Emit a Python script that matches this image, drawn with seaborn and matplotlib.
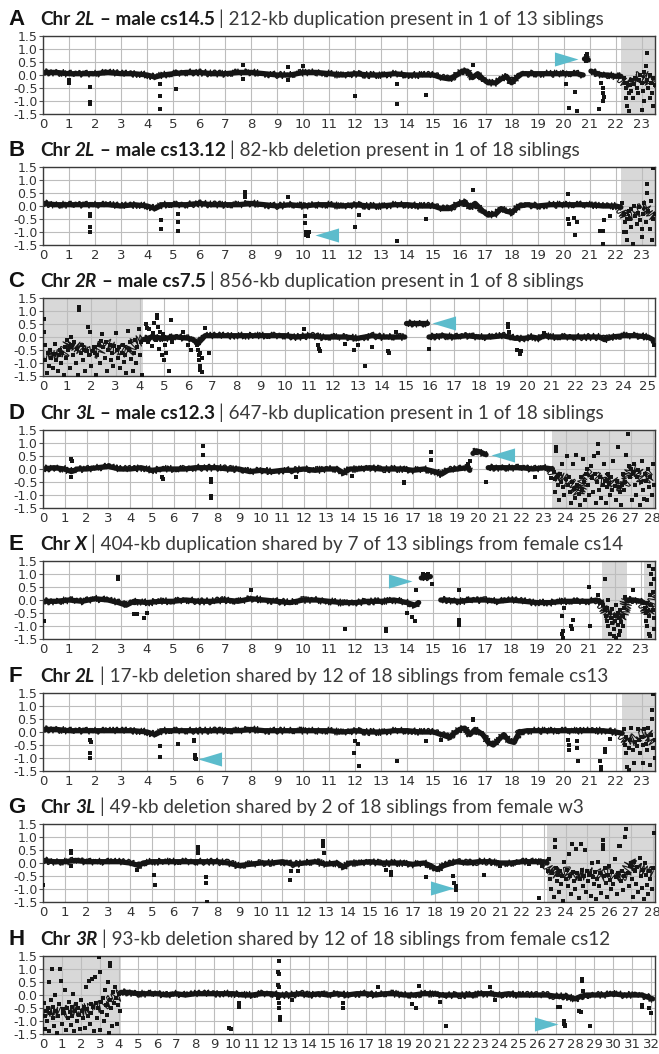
import numpy as np
import pandas as pd
import matplotlib
matplotlib.use("Agg")
import matplotlib.pyplot as plt
import seaborn as sns

# ---- panel A: Chr 2L, male cs14.5 ----
A_len = 23.51
A_shade = [(22.2, 23.51)]
A_trace = [(0, 0.1), (0.5, 0.1), (1, 0.05), (1.5, 0.05), (2, 0.05), (2.5, 0.1), (3, 0.05), (3.5, 0.05),
           (4, 0.0), (4.3, -0.08), (4.6, 0.0), (5, 0.05), (5.5, 0.1), (6, 0.1), (6.5, 0.05), (7, 0.05),
           (7.5, 0.1), (8, 0.1), (8.5, 0.05), (9, 0.0), (9.5, 0.0), (10, 0.1), (10.5, 0.1), (11, 0.05),
           (11.5, 0.0), (12, 0.05), (12.5, 0.0), (13, 0.0), (13.5, 0.05), (14, 0.0), (14.5, 0.0), (15, 0.0),
           (15.3, -0.1), (15.6, -0.15), (15.9, 0.0), (16.1, 0.15), (16.3, 0.15), (16.5, -0.1), (16.7, 0.05),
           (16.9, -0.15), (17.1, -0.3), (17.4, -0.3), (17.6, -0.15), (17.8, -0.05), (18.0, -0.3), (18.2, -0.1),
           (18.4, 0.05), (19, 0.05), (19.5, 0.05), (20, 0.05), (20.5, 0.05), (20.75, 0.0), None,
           (20.8, 0.62), (20.95, 0.58), None, (21.05, 0.15), (21.3, 0.05), (21.5, 0.0), (21.7, 0.0),
           (22.0, -0.05), (22.2, -0.05)]
A_noisy = [(22.2, -0.05), (22.4, -0.3), (22.6, -0.35), (22.8, -0.15), (23.0, 0.0), (23.2, -0.1),
           (23.35, -0.3), (23.51, -0.2)]
A_points = [(1.0, -0.3), (1.0, -0.2), (1.8, -0.45), (1.8, -1.05), (1.8, -1.12), (4.5, -0.35), (4.5, -0.8),
            (4.5, -1.3), (5.1, -0.55), (7.7, 0.4), (7.7, -0.15), (9.4, 0.3), (9.4, -0.2), (10.0, 0.35),
            (12.0, -0.8), (13.6, -1.1), (13.6, -0.35), (14.7, -0.75), (16.5, 0.4), (16.9, -0.2),
            (20.1, -0.35), (20.2, -1.25), (20.45, -0.65), (20.5, -1.4), (20.85, 0.75), (20.88, 0.8),
            (20.9, 0.7), (20.85, 0.52), (21.45, -0.3), (21.5, -0.5), (21.5, -0.7), (21.55, -0.85),
            (21.5, -1.0), (21.35, -1.3), (22.3, -0.1), (22.35, -0.3), (22.4, -0.5), (22.4, -0.9),
            (22.45, -1.2), (22.5, -1.4), (22.5, -0.7), (22.55, -0.4), (22.6, -0.2), (22.6, -0.6),
            (22.65, -0.9), (22.7, -0.35), (22.75, -0.1), (22.8, -0.5), (22.85, -0.7), (22.9, -0.2),
            (22.95, 0.0), (23.0, -0.3), (23.0, -1.35), (23.05, -0.6), (23.1, 0.1), (23.1, -1.0),
            (23.15, 0.35), (23.2, -0.2), (23.2, 0.85), (23.25, -0.5), (23.3, -0.9), (23.3, 0.0),
            (23.35, -0.3), (23.4, -0.7), (23.45, -1.2), (23.45, -0.1), (23.5, -0.4)]
A_arrow = (20.55, 0.6, "right")

# ---- panel B: Chr 2L, male cs13.12 ----
B_len = 23.51
B_shade = [(22.2, 23.51)]
B_trace = [(0, 0.1), (0.5, 0.05), (1, 0.05), (1.5, 0.05), (2, 0.05), (2.5, 0.05), (3, 0.0), (3.5, 0.05),
           (4, 0.0), (4.3, -0.1), (4.6, 0.05), (5, 0.05), (5.5, 0.05), (6, 0.1), (6.5, 0.05), (7, 0.05),
           (7.5, 0.05), (8, 0.1), (8.5, 0.05), (9, 0.0), (9.5, 0.05), (10, 0.0), (10.5, 0.05), (11, 0.05),
           (11.5, 0.0), (12, 0.05), (12.5, 0.0), (13, 0.0), (13.5, 0.05), (14, 0.05), (14.5, 0.0), (15, 0.0),
           (15.3, -0.1), (15.6, -0.1), (16, 0.1), (16.2, 0.15), (16.4, -0.05), (16.6, 0.1), (16.9, -0.2),
           (17.1, -0.35), (17.4, -0.3), (17.6, -0.1), (17.8, -0.2), (18, -0.25), (18.3, 0.0), (18.6, 0.05),
           (19, 0.0), (19.5, 0.05), (20, 0.05), (20.5, 0.05), (21, 0.05), (21.5, 0.0), (22, 0.0), (22.2, -0.05)]
B_noisy = [(22.2, -0.05), (22.4, -0.4), (22.6, -0.3), (22.8, -0.2), (23.0, -0.1), (23.2, 0.0),
           (23.4, -0.3), (23.51, -0.4)]
B_points = [(1.8, -0.4), (1.8, -0.3), (1.8, -0.8), (1.8, -1.0), (4.55, -0.55), (4.55, -0.9), (5.2, -0.3),
            (5.2, -0.6), (5.2, -0.95), (7.75, 0.55), (7.75, 0.45), (7.75, 0.35), (9.4, 0.35), (10.05, -0.4),
            (10.05, -0.65), (10.1, -1.0), (10.12, -1.05), (10.15, -1.1), (10.18, -1.15), (10.1, -1.1),
            (10.2, -1.0), (12.0, -0.8), (12.15, -0.35), (13.6, -1.35), (14.7, -0.5), (16.5, 0.6),
            (20.15, 0.45), (20.15, -0.5), (20.2, -0.7), (20.4, -0.45), (20.45, -1.1), (20.5, -0.6),
            (21.4, -0.95), (21.5, -0.95), (21.55, -0.55), (21.5, -1.45), (21.8, -0.4),
            (22.25, 0.1), (22.3, -0.3), (22.35, -0.6), (22.4, -1.0), (22.45, -1.3), (22.5, -0.2),
            (22.55, -0.5), (22.6, -0.8), (22.65, -1.45), (22.7, 0.0), (22.75, -0.4), (22.8, -0.7),
            (22.85, -0.25), (22.9, -0.05), (22.95, -0.55), (23.0, -1.2), (23.05, -0.3), (23.1, 0.1),
            (23.15, -0.6), (23.2, 0.5), (23.2, 0.85), (23.25, -0.2), (23.3, -0.9), (23.35, 0.2),
            (23.4, -1.3), (23.45, 1.45), (23.45, -0.5), (23.5, -0.3), (22.3, -1.0), (22.6, -0.1),
            (23.0, -0.9), (22.45, -0.5)]
B_arrow = (10.45, -1.1, "left")

# ---- panel C: Chr 2R, male cs7.5 ----
C_len = 25.29
C_shade = [(0, 4.15)]
C_trace = [(4.15, -0.1), (4.5, 0.0), (5.0, -0.05), (5.5, 0.0), (6.0, -0.05), (6.2, -0.1), (6.4, -0.25),
           (6.55, -0.1), (6.7, 0.05), (7, 0.05), (8, 0.05), (8.5, 0.05), (9, 0.05), (9.5, 0.05), (10, 0.05),
           (10.5, 0.0), (11, 0.05), (11.5, 0.0), (12, 0.0), (12.5, 0.0), (13, -0.05), (13.3, 0.0),
           (13.6, 0.05), (14, 0.0), (14.5, 0.0), (14.95, 0.0), None, (15.0, 0.55), (15.85, 0.55), None,
           (15.95, 0.0), (16.5, 0.05), (17, 0.0), (17.5, 0.05), (18, 0.0), (18.5, 0.0), (19, 0.05),
           (19.5, -0.05), (19.9, -0.05), (20.2, 0.0), (20.5, -0.05), (20.7, 0.05), (21, 0.0), (21.5, 0.0),
           (22, 0.0), (22.5, 0.0), (23, 0.0), (23.2, -0.1), (23.5, 0.0), (24, 0.05), (24.5, 0.05),
           (25, 0.0), (25.29, -0.15)]
C_noisy = [(0.0, -0.6), (0.4, -0.65), (0.8, -0.7), (1.1, -0.2), (1.3, -0.3), (1.6, -0.5), (2.0, -0.5),
           (2.3, -0.6), (2.5, -0.2), (2.8, -0.35), (3.1, -0.45), (3.5, -0.6), (3.8, -0.2), (4.15, -0.1)]
C_points = [(0.05, 0.7), (0.05, 0.2), (0.1, -0.3), (0.1, -0.9), (0.15, -1.4), (0.2, -0.6), (0.25, -1.1),
            (0.3, -0.5), (0.35, -0.8), (0.4, -1.2), (0.45, -0.65), (0.5, -0.25), (0.55, -0.9), (0.6, -1.3),
            (0.65, -0.7), (0.7, -0.5), (0.75, -1.0), (0.8, -0.6), (0.85, -1.45), (0.9, -0.4), (0.95, -0.8),
            (1.0, -0.1), (1.05, -0.5), (1.1, -1.2), (1.15, 0.0), (1.2, -0.3), (1.25, -0.7), (1.3, -0.2),
            (1.35, -1.0), (1.4, -0.45), (1.45, -1.45), (1.5, 1.15), (1.5, 1.05), (1.55, -0.6), (1.6, -0.3),
            (1.65, -0.9), (1.7, -0.5), (1.75, -1.3), (1.8, -0.55), (1.85, 0.4), (1.9, -0.7), (1.95, 0.2),
            (2.0, -1.1), (2.05, -0.55), (2.1, -0.4), (2.15, -0.6), (2.2, -1.45), (2.25, -0.7), (2.3, -0.3),
            (2.35, -1.0), (2.4, -0.15), (2.45, 0.1), (2.5, -0.4), (2.55, -0.8), (2.6, -0.2), (2.65, -1.3),
            (2.7, -0.5), (2.75, -0.3), (2.8, -0.9), (2.85, -0.6), (2.9, -1.1), (2.95, -0.35), (3.0, 0.15),
            (3.05, -0.5), (3.1, -0.8), (3.15, -0.4), (3.2, -1.2), (3.25, -0.6), (3.3, -0.3), (3.35, -0.95),
            (3.4, -0.7), (3.45, -1.4), (3.5, 0.25), (3.55, -0.5), (3.6, -0.2), (3.65, -0.85), (3.7, -1.3),
            (3.75, -0.6), (3.8, -0.1), (3.85, -1.0), (3.9, -0.4), (3.95, 0.3), (4.0, -0.7), (4.05, -0.2),
            (4.1, -1.45), (4.25, 0.5), (4.3, 0.35), (4.35, -0.2), (4.4, 0.3), (4.5, -0.35), (4.55, 0.15),
            (4.6, 0.55), (4.65, -0.1), (4.7, 0.85), (4.7, 0.75), (4.75, 0.4), (4.8, -0.45), (4.85, 0.2),
            (4.9, -0.7), (4.95, 0.1), (5.0, -0.9), (5.05, -0.3), (5.1, -0.6), (5.2, -1.3), (5.3, 0.65),
            (5.35, -0.2), (5.8, 0.2), (6.0, -0.3), (6.1, -0.5), (6.35, -0.3), (6.4, -0.5), (6.45, -0.7),
            (6.45, -0.9), (6.5, -1.1), (6.5, -1.25), (6.55, -0.8), (6.5, -0.6), (6.55, -1.35), (6.7, 0.35),
            (6.85, -0.6), (10.8, 0.3), (11.4, -0.45), (11.35, -0.3), (11.45, -0.55), (12.5, -0.25),
            (12.85, -0.5), (13.0, -0.3), (13.3, -1.1), (13.6, -0.4), (14.25, -0.55), (14.3, -0.6),
            (14.6, 0.2), (15.95, -0.45), (19.2, 0.5), (19.2, 0.4), (19.25, 0.2), (19.6, -0.5), (19.7, -0.65),
            (19.75, -0.55), (20.7, 0.15), (25.25, -0.3)]
C_arrow = (16.07, 0.55, "left")

# ---- panel D: Chr 3L, male cs12.3 ----
D_len = 28.11
D_shade = [(23.4, 28.11)]
D_trace = [(0, 0.0), (0.5, 0.05), (1, 0.0), (1.3, -0.1), (1.6, 0.0), (2, 0.0), (2.5, 0.05), (3, 0.1),
           (3.5, 0.0), (4, 0.0), (4.5, 0.05), (5, -0.05), (5.5, 0.0), (6, 0.0), (6.5, 0.0), (7, 0.05),
           (7.5, 0.05), (8, 0.05), (8.5, 0.0), (9, 0.0), (9.5, -0.1), (10, -0.05), (10.5, -0.1), (11, -0.05),
           (11.5, -0.05), (12, 0.0), (12.5, -0.05), (13, 0.0), (13.5, 0.0), (13.8, -0.15), (14.1, 0.0),
           (14.5, 0.0), (15, 0.05), (15.5, 0.0), (16, 0.0), (16.5, 0.0), (17, -0.05), (17.5, 0.0),
           (18, -0.1), (18.3, -0.2), (18.6, -0.05), (19, 0.0), (19.5, 0.05), (19.6, -0.05), None,
           (19.75, 0.6), (19.9, 0.7), (20.1, 0.65), (20.35, 0.55), None, (20.45, 0.05), (21, 0.05),
           (21.5, 0.05), (22, 0.05), (22.5, 0.0), (23, 0.05), (23.4, 0.0)]
D_noisy = [(23.4, 0.0), (23.5, -0.2), (24.0, -0.4), (24.3, -0.6), (24.6, -0.9), (24.8, -0.5),
           (25.0, -0.2), (25.2, -0.1), (25.5, -0.4), (25.8, -0.5), (26.0, -0.3), (26.3, -0.6),
           (26.6, -0.7), (26.8, -0.5), (27.0, 0.0), (27.3, -0.1), (27.6, -0.5), (28.0, -0.1)]
D_points = [(1.3, 0.4), (1.35, 0.3), (1.3, -0.3), (5.5, -0.4), (5.45, -0.3), (7.35, 0.9), (7.35, 0.55),
            (7.7, -0.4), (7.7, -1.05), (7.7, -1.1), (7.7, -0.5), (11.6, -0.3), (14.2, -0.25), (16.6, -0.5),
            (16.6, -0.55), (17.8, 0.65), (17.8, 0.35), (19.5, 0.2), (19.6, 0.3), (20.35, -0.5), (22.6, -0.3),
            (23.35, -0.35), (23.45, -0.1), (23.5, -0.4), (23.5, -0.9), (23.55, 0.85), (23.55, 0.7),
            (23.6, -0.3), (23.65, -0.6), (23.7, -1.2), (23.75, -0.2), (23.8, -0.5), (23.85, 0.2),
            (23.9, -0.7), (23.95, -1.0), (24.0, -0.4), (24.05, 0.5), (24.1, -0.6), (24.15, -0.3),
            (24.2, -0.9), (24.25, -1.3), (24.3, -0.5), (24.35, 0.2), (24.4, -0.75), (24.45, -1.1),
            (24.5, 0.55), (24.55, -0.6), (24.6, -0.95), (24.65, -1.4), (24.7, -0.3), (24.75, -0.8),
            (24.8, 0.4), (24.85, -0.5), (24.9, -1.2), (24.95, -0.2), (25.0, 0.0), (25.05, -0.6),
            (25.1, -1.0), (25.15, 0.1), (25.2, -0.35), (25.25, -0.9), (25.3, 0.5), (25.35, -0.2),
            (25.4, -1.3), (25.45, -0.5), (25.5, 0.95), (25.5, 0.6), (25.55, -0.8), (25.6, -0.3),
            (25.65, -1.1), (25.7, -0.6), (25.75, 0.2), (25.8, -0.45), (25.85, -1.3), (25.9, -0.7),
            (25.95, -0.2), (26.0, -0.55), (26.05, -1.0), (26.1, -0.3), (26.15, -0.8), (26.2, 0.3),
            (26.25, -0.65), (26.3, -1.2), (26.35, -0.45), (26.4, 0.85), (26.45, -0.7), (26.5, -0.9),
            (26.55, -1.4), (26.6, -0.6), (26.65, -0.2), (26.7, -0.8), (26.75, -0.5), (26.8, 0.55),
            (26.85, 1.35), (26.9, 0.1), (26.95, -0.3), (27.0, 0.0), (27.05, -1.2), (27.1, -0.1),
            (27.15, 0.2), (27.2, -0.6), (27.25, -1.0), (27.3, -0.3), (27.35, -0.05), (27.4, -1.4),
            (27.45, -0.5), (27.5, 0.3), (27.55, -0.8), (27.6, -1.15), (27.65, -0.2), (27.7, -0.45),
            (27.75, -1.2), (27.8, 0.0), (27.85, -0.7), (27.9, -0.3), (27.95, -1.0), (28.0, 0.2),
            (28.05, -0.6)]
D_arrow = (20.6, 0.52, "left")

# ---- panel E: Chr X, female cs14 ----
E_len = 23.54
E_shade = [(21.5, 22.45), (23.1, 23.54)]
E_trace = [(0, -0.05), (0.5, -0.05), (1, 0.0), (1.5, -0.05), (2, 0.05), (2.5, 0.0), (2.9, -0.1),
           (3.2, -0.2), (3.5, -0.05), (4, -0.1), (4.5, -0.05), (5, -0.05), (5.5, 0.0), (6, -0.05),
           (6.5, -0.05), (7, 0.0), (7.5, -0.05), (8, 0.05), (8.5, 0.0), (9, -0.05), (9.5, -0.1), (10, 0.0),
           (10.5, 0.0), (11, -0.05), (11.5, -0.1), (12, -0.1), (12.5, -0.05), (13, -0.05), (13.5, 0.0),
           (14, -0.1), (14.3, -0.2), (14.45, -0.1), None, (14.55, 0.85), (14.9, 0.9), None, (15.3, 0.0),
           (15.5, 0.0), (16, -0.05), (16.5, 0.0), (17, 0.0), (17.5, -0.05), (18, 0.0), (18.5, -0.05),
           (19, -0.1), (19.5, -0.1), (20, -0.05), (20.5, -0.05), (21, -0.05), (21.3, 0.0), (21.5, -0.1),
           None, (22.45, 0.0), (22.7, 0.0), (23.0, -0.05), (23.1, -0.1)]
E_noisy = [(21.5, -0.1), (21.7, -0.5), (21.9, -0.7), (22.1, -0.75), (22.3, -0.6), (22.45, 0.0), None,
           (23.1, -0.1), (23.25, -0.5), (23.4, -0.3), (23.54, 0.2)]
E_points = [(0.05, -0.8), (2.9, 0.9), (2.9, 0.8), (3.5, -0.55), (3.6, -0.55), (3.9, -0.7), (4.0, -0.5),
            (8.0, 0.4), (11.6, -1.1), (13.2, -1.1), (13.2, -1.2), (14.0, -0.5), (14.2, -0.65), (14.3, -0.8),
            (14.35, 0.4), (14.6, 1.0), (14.7, 0.95), (14.8, 1.0), (14.95, 0.6), (16.0, -0.75),
            (16.0, -0.95), (16.0, -0.9), (16.0, 0.4), (19.95, -0.6), (20.05, -0.3), (19.95, -1.3),
            (20.0, -1.45), (20.0, -1.2), (20.3, -1.0), (20.35, -1.1), (20.4, -0.75), (21.0, 0.5),
            (21.05, -1.0), (21.35, 0.2), (21.55, -0.2), (21.6, -0.4), (21.6, 0.8), (21.65, -0.6),
            (21.7, -0.3), (21.7, -0.8), (21.75, -1.0), (21.8, -0.5), (21.8, -1.3), (21.85, -0.7),
            (21.9, -0.9), (21.9, -0.35), (21.95, -1.1), (22.0, -0.6), (22.0, -0.8), (22.05, -1.45),
            (22.1, -0.5), (22.1, -0.95), (22.15, -0.7), (22.2, -1.2), (22.2, -0.4), (22.25, -0.85),
            (22.3, -0.6), (22.3, -1.0), (22.35, -0.3), (21.75, 0.0), (22.05, -0.2), (21.95, -1.4),
            (22.4, 0.1), (22.15, -1.35), (22.7, 0.4), (23.15, -0.3), (23.2, -0.5), (23.2, -0.8),
            (23.25, -1.0), (23.3, -1.3), (23.3, -0.6), (23.35, 0.2), (23.35, -1.4), (23.4, 0.6),
            (23.4, 1.0), (23.45, 1.2), (23.45, -0.4), (23.5, 0.8), (23.5, -1.1), (23.4, -0.2),
            (23.25, -0.1), (23.3, 1.3), (23.45, 0.3), (23.5, -0.7)]
E_arrow = (14.2, 0.73, "right")

# ---- panel F: Chr 2L, female cs13 ----
F_len = 23.51
F_shade = [(22.25, 23.51)]
F_trace = [(0, 0.1), (0.5, 0.1), (1, 0.05), (1.5, 0.05), (2, 0.05), (2.5, 0.05), (3, 0.05), (3.5, 0.05),
           (4, 0.0), (4.3, -0.1), (4.6, 0.05), (5, 0.05), (5.5, 0.05), (6, 0.05), (6.5, 0.05), (7, 0.05),
           (7.5, 0.05), (8, 0.1), (8.5, 0.05), (9, 0.05), (9.5, 0.05), (10, 0.05), (10.5, 0.05), (11, 0.05),
           (11.5, 0.0), (12, 0.05), (12.5, 0.0), (13, 0.0), (13.5, 0.05), (14, 0.05), (14.5, 0.0), (15, 0.0),
           (15.3, -0.1), (15.6, -0.2), (16, 0.1), (16.2, 0.15), (16.4, -0.1), (16.6, 0.1), (16.9, -0.1),
           (17.1, -0.4), (17.3, -0.5), (17.5, -0.3), (17.7, -0.1), (17.9, -0.35), (18.1, -0.4), (18.3, 0.0),
           (18.6, 0.05), (19, 0.05), (19.5, 0.05), (20, 0.05), (20.5, 0.05), (21, 0.05), (21.5, 0.05),
           (22, 0.0), (22.25, -0.05)]
F_noisy = [(22.25, -0.05), (22.45, -0.35), (22.65, -0.3), (22.85, -0.15), (23.0, -0.1), (23.2, -0.05),
           (23.4, -0.3), (23.51, -0.4)]
F_points = [(1.8, -0.3), (1.85, -0.4), (1.8, -0.8), (1.8, -1.0), (4.5, -0.55), (4.5, -0.95), (5.2, -0.45),
            (5.8, -0.35), (5.8, -0.3), (5.85, -0.9), (5.85, -0.95), (5.85, -1.0), (5.88, -1.05),
            (11.95, -0.8), (12.0, -0.35), (12.1, -0.45), (12.15, -1.3), (13.6, -1.1), (14.7, -0.35),
            (15.3, -0.3), (16.5, 0.45), (16.5, 0.5), (20.15, -0.3), (20.2, -0.5), (20.2, -0.7), (20.5, -0.35),
            (20.5, -0.6), (20.55, -1.1), (21.4, -1.1), (21.45, -1.35), (21.45, -1.45), (21.6, -0.65),
            (21.6, -0.75), (21.8, -0.25), (22.3, 0.1), (22.35, -0.5), (22.4, -0.2), (22.45, -1.35),
            (22.5, -1.45), (22.5, -0.6), (22.55, -0.3), (22.6, 0.15), (22.65, -0.7), (22.7, -1.2),
            (22.75, -0.4), (22.8, -0.55), (22.85, 0.1), (22.9, -0.3), (22.95, -0.8), (23.0, -0.2),
            (23.05, -1.2), (23.1, 0.1), (23.15, -0.45), (23.2, -0.7), (23.25, 0.15), (23.3, -1.25),
            (23.35, -0.1), (23.4, 0.5), (23.4, 0.85), (23.45, -0.6), (23.45, 1.45), (23.5, -0.3),
            (23.5, -1.0), (22.4, -0.8), (23.05, -0.5)]
F_arrow = (5.95, -1.02, "left")

# ---- panel G: Chr 3L, female w3 ----
G_len = 28.11
G_shade = [(23.15, 28.11)]
G_trace = [(0, 0.1), (0.5, 0.05), (1, 0.05), (1.5, 0.1), (2, 0.05), (2.5, 0.05), (3, 0.05), (3.5, 0.05),
           (4, 0.0), (4.4, -0.1), (4.6, 0.0), (5, 0.05), (5.5, 0.05), (6, 0.05), (6.5, 0.05), (7, 0.05),
           (7.5, 0.05), (8, 0.05), (8.5, 0.0), (9, -0.1), (9.5, -0.05), (10, 0.0), (10.5, 0.0), (11, 0.05),
           (11.5, -0.05), (12, 0.0), (12.5, 0.05), (13, -0.05), (13.5, 0.0), (13.8, -0.15), (14.1, 0.0),
           (14.5, 0.0), (15, 0.05), (15.5, 0.0), (16, 0.0), (16.5, 0.0), (17, -0.05), (17.5, 0.0),
           (17.8, -0.1), (18.1, -0.25), (18.4, -0.1), (18.8, 0.0), (19, 0.05), (19.5, 0.0), (20, 0.05),
           (20.5, 0.05), (21, 0.0), (21.5, 0.0), (22, 0.05), (22.5, 0.05), (23, 0.05), (23.15, 0.0)]
G_noisy = [(23.15, 0.0), (23.3, -0.2), (23.6, -0.4), (24.0, -0.3), (24.3, -0.5), (24.6, -0.4),
           (25.0, -0.45), (25.3, -0.3), (25.6, -0.5), (26.0, -0.4), (26.3, -0.55), (26.7, -0.45),
           (27.0, 0.0), (27.3, -0.2), (27.6, -0.3), (28.0, -0.4)]
G_points = [(0.0, -0.85), (1.3, 0.45), (1.3, 0.4), (1.3, -0.1), (4.3, -0.25), (5.1, -0.45), (5.15, -0.85),
            (7.1, 0.6), (7.1, 0.5), (7.1, 0.4), (7.5, -0.55), (7.5, -0.75), (7.55, -1.5), (11.4, -0.3),
            (11.35, -0.65), (11.7, -0.3), (12.85, 0.85), (12.85, 0.75), (12.85, 0.65), (12.9, 0.4),
            (15.75, -0.25), (16.0, -0.35), (16.0, -0.45), (17.6, -0.55), (18.85, -0.5), (18.9, -0.75),
            (18.95, -0.9), (18.95, -1.0), (18.95, -1.05), (18.97, -0.95), (20.25, -0.45), (21.0, -0.1),
            (22.3, -0.05), (22.8, -1.35), (22.9, -0.1),
            (23.2, -0.3), (23.25, 0.15), (23.3, -0.6), (23.35, -1.0), (23.4, -0.4), (23.45, -1.3),
            (23.5, 0.6), (23.5, 0.9), (23.55, -0.2), (23.6, -0.7), (23.65, -0.45), (23.7, -1.1),
            (23.75, -0.3), (23.8, -0.8), (23.85, -0.5), (23.9, -1.45), (23.95, 0.05), (24.0, -0.6),
            (24.05, -0.25), (24.1, -0.9), (24.15, 0.35), (24.2, -0.5), (24.25, -1.2), (24.3, 0.75),
            (24.35, -0.35), (24.4, -0.7), (24.45, -1.0), (24.5, 0.55), (24.55, -0.4), (24.6, -1.35),
            (24.65, -0.6), (24.7, 0.75), (24.75, -0.25), (24.8, -0.9), (24.85, -0.5), (24.9, 0.5),
            (24.95, -1.1), (25.0, -0.3), (25.05, -0.7), (25.1, -0.45), (25.15, -1.25), (25.2, 0.0),
            (25.25, -0.55), (25.3, -0.8), (25.35, -0.35), (25.4, -1.4), (25.45, -0.6), (25.5, 0.05),
            (25.55, -0.9), (25.6, -0.4), (25.65, -1.15), (25.7, 0.9), (25.7, 0.7), (25.7, 0.55),
            (25.75, -0.5), (25.8, -0.2), (25.85, -0.75), (25.9, -1.3), (25.95, -0.45), (26.0, -0.1),
            (26.05, -0.65), (26.1, -1.0), (26.15, -0.35), (26.2, -0.8), (26.25, 0.15), (26.3, -0.55),
            (26.35, -1.2), (26.4, -0.4), (26.45, 0.65), (26.5, 0.65), (26.55, -0.7), (26.6, -0.3),
            (26.65, -1.05), (26.7, -0.5), (26.75, 1.0), (26.8, 1.3), (26.85, -0.4), (26.9, -0.9),
            (26.95, -0.1), (27.0, 0.0), (27.05, -0.6), (27.1, -1.3), (27.15, 0.05), (27.2, -0.3),
            (27.25, -0.8), (27.3, -0.15), (27.35, -1.1), (27.4, 0.2), (27.45, -0.5), (27.5, -0.95),
            (27.55, -0.25), (27.6, -1.4), (27.65, 0.0), (27.7, -0.45), (27.75, -0.85), (27.8, -1.2),
            (27.85, -0.3), (27.9, -0.6), (27.95, -1.0), (28.0, -0.2), (28.05, 1.15)]
G_arrow = (18.9, -0.96, "right")

# ---- panel H: Chr 3R, female cs12 ----
H_len = 32.2
H_shade = [(0, 4.1)]
H_trace = [(4.1, 0.1), (4.5, 0.1), (5, 0.05), (5.5, 0.05), (6, 0.05), (6.5, 0.0), (7, 0.05), (7.5, 0.0),
           (8, 0.05), (8.5, 0.05), (9, 0.05), (9.5, 0.05), (10, 0.05), (10.5, 0.0), (11, 0.0), (11.5, 0.05),
           (12, 0.05), (12.5, 0.0), (13, 0.0), (13.5, 0.05), (14, 0.0), (14.5, 0.05), (15, 0.0),
           (15.5, 0.05), (16, 0.0), (16.5, 0.05), (17, 0.05), (17.5, 0.0), (18, 0.05), (18.5, 0.05),
           (19, 0.0), (19.5, 0.0), (20, 0.05), (20.5, 0.05), (21, 0.0), (21.5, 0.0), (22, 0.0), (22.5, 0.0),
           (23, 0.05), (23.5, 0.05), (24, 0.0), (24.5, 0.05), (25, 0.0), (25.5, 0.0), (26, 0.0), (26.5, 0.0),
           (27, -0.05), (27.5, -0.05), (28, -0.15), (28.3, -0.05), (28.6, 0.0), (29, 0.0), (29.5, 0.0),
           (30, 0.05), (30.5, 0.0), (31, 0.0), (31.5, 0.0), (32.08, -0.15)]
H_noisy = [(0, -0.6), (0.5, -0.6), (1.0, -0.7), (1.5, -0.55), (2.0, -0.6), (2.5, -0.5), (3.0, -0.45),
           (3.3, -0.3), (3.6, -0.2), (4.1, 0.05)]
H_points = [(0.05, -0.3), (0.1, -0.8), (0.1, -1.3), (0.15, -0.6), (0.2, -1.0), (0.25, -0.5), (0.3, 0.5),
            (0.3, -1.4), (0.35, -0.7), (0.4, -0.2), (0.45, 1.0), (0.5, -0.9), (0.55, -0.45), (0.6, -1.2),
            (0.65, 0.0), (0.7, -0.6), (0.75, -1.45), (0.8, -0.8), (0.85, -0.35), (0.9, 1.0), (0.95, 0.55),
            (1.0, -1.1), (1.05, -0.55), (1.1, -0.7), (1.15, 0.2), (1.2, -1.35), (1.25, -0.5), (1.3, -0.9),
            (1.35, -0.25), (1.4, -0.65), (1.45, -1.15), (1.5, -0.45), (1.55, -0.8), (1.6, 0.05),
            (1.65, -1.4), (1.7, -0.6), (1.75, -0.35), (1.8, -1.0), (1.85, -0.5), (1.9, -0.75), (1.95, -1.3),
            (2.0, -0.2), (2.05, -0.6), (2.1, -0.9), (2.15, -0.45), (2.2, -1.25), (2.25, 0.3), (2.3, -0.55),
            (2.35, -0.8), (2.4, 0.55), (2.45, -1.1), (2.5, -0.35), (2.55, -0.7), (2.6, 0.6), (2.65, -0.45),
            (2.7, -1.4), (2.75, 0.7), (2.8, -0.3), (2.85, -0.9), (2.9, -0.5), (2.95, 1.45), (3.0, 0.9),
            (3.0, -1.35), (3.05, -0.25), (3.1, -0.65), (3.15, -0.1), (3.2, -1.0), (3.25, 0.2), (3.3, -0.4),
            (3.35, -0.75), (3.4, 0.5), (3.45, -1.45), (3.5, -0.2), (3.55, 1.25), (3.55, 1.1), (3.6, -0.5),
            (3.65, -1.2), (3.7, 0.1), (3.75, -0.3), (3.8, 0.3), (3.85, -0.1), (3.9, -1.1), (3.95, -0.4),
            (4.0, 0.05), (4.05, -0.6), (9.8, -1.25), (9.9, -1.3), (10.3, -0.45), (10.3, -0.3), (12.4, 1.3),
            (12.35, 0.9), (12.4, 0.8), (12.35, 0.4), (12.4, 0.3), (12.35, -0.1), (12.4, -0.3), (12.4, -0.5),
            (12.45, -0.85), (12.45, -0.95), (13.1, -0.2), (15.8, -0.3), (15.8, -0.5), (17.6, 0.3),
            (19.4, -0.35), (19.6, -0.5), (19.8, 0.35), (20.9, -0.25), (21.2, -1.2), (23.5, 0.3),
            (23.8, -0.2), (27.1, -0.45), (27.2, -0.45), (27.4, -1.05), (27.4, -1.1), (27.45, -1.15),
            (27.45, -1.2), (27.4, -1.0), (28.2, -0.6), (28.3, -0.65), (28.35, 0.6), (28.35, 0.55),
            (28.4, 0.15), (28.8, -1.2), (31.5, -0.4), (31.5, -0.45), (31.9, -0.5), (32.0, -0.7)]
H_arrow = (27.1, -1.1, "right")

# ---- titles ----
A_title = ("A", [("Chr", "bold", "normal"), ("2L", "bold", "italic"), ("– male cs14.5", "bold", "normal"),
                 ("| 212-kb duplication present in 1 of 13 siblings", "normal", "normal")])
B_title = ("B", [("Chr", "bold", "normal"), ("2L", "bold", "italic"), ("– male cs13.12", "bold", "normal"),
                 ("| 82-kb deletion present in 1 of 18 siblings", "normal", "normal")])
C_title = ("C", [("Chr", "bold", "normal"), ("2R", "bold", "italic"), ("– male cs7.5", "bold", "normal"),
                 ("| 856-kb duplication present in 1 of 8 siblings", "normal", "normal")])
D_title = ("D", [("Chr", "bold", "normal"), ("3L", "bold", "italic"), ("– male cs12.3", "bold", "normal"),
                 ("| 647-kb duplication present in 1 of 18 siblings", "normal", "normal")])
E_title = ("E", [("Chr", "bold", "normal"), ("X", "bold", "italic"),
                 ("| 404-kb duplication shared by 7 of 13 siblings from female cs14", "normal", "normal")])
F_title = ("F", [("Chr", "bold", "normal"), ("2L", "bold", "italic"),
                 ("| 17-kb deletion shared by 12 of 18 siblings from female cs13", "normal", "normal")])
G_title = ("G", [("Chr", "bold", "normal"), ("3L", "bold", "italic"),
                 ("| 49-kb deletion shared by 2 of 18 siblings from female w3", "normal", "normal")])
H_title = ("H", [("Chr", "bold", "normal"), ("3R", "bold", "italic"),
                 ("| 93-kb deletion shared by 12 of 18 siblings from female cs12", "normal", "normal")])

panels = [
    (A_len, A_shade, A_trace, A_noisy, A_points, A_arrow, A_title),
    (B_len, B_shade, B_trace, B_noisy, B_points, B_arrow, B_title),
    (C_len, C_shade, C_trace, C_noisy, C_points, C_arrow, C_title),
    (D_len, D_shade, D_trace, D_noisy, D_points, D_arrow, D_title),
    (E_len, E_shade, E_trace, E_noisy, E_points, E_arrow, E_title),
    (F_len, F_shade, F_trace, F_noisy, F_points, F_arrow, F_title),
    (G_len, G_shade, G_trace, G_noisy, G_points, G_arrow, G_title),
    (H_len, H_shade, H_trace, H_noisy, H_points, H_arrow, H_title),
]


def to_frame(pairs):
    rows, seg = [], 0
    for p in pairs:
        if p is None:
            seg += 1
            continue
        rows.append((p[0], p[1], seg))
    return pd.DataFrame(rows, columns=["mb", "log2", "seg"])


sns.set_style("white")
plt.rcParams["font.family"] = ["Liberation Sans Narrow", "DejaVu Sans"]

W, H = 659, 1054
fig = plt.figure(figsize=(W / 100, H / 100), dpi=100)
renderer = fig.canvas.get_renderer()

plot_left, plot_right, plot_h = 43, 655, 78
plot_tops = [36, 167, 298, 430, 561, 693, 824, 956]
title_font = ["Lato", "DejaVu Sans"]
arrow_color = "#5cbccc"
ink = "#151515"

for (length, shade, trace, noisy, points, arrow, title), top in zip(panels, plot_tops):
    ax = fig.add_axes([plot_left / W, 1 - (top + plot_h) / H, (plot_right - plot_left) / W, plot_h / H])
    ax.set_xlim(0, length)
    ax.set_ylim(-1.5, 1.5)
    for x0, x1 in shade:
        ax.axvspan(x0, x1, color="#d8d8d8", lw=0, zorder=0)
    ax.set_xticks(np.arange(0, int(length) + 1))
    ax.set_yticks([1.5, 1.0, 0.5, 0.0, -0.5, -1.0, -1.5])
    ax.set_yticklabels(["1.5", "1.0", "0.5", "0.0", "-0.5", "-1.0", "-1.5"])
    ax.grid(True, color="#bdbdbd", lw=0.8, zorder=0.5)
    ax.set_axisbelow(True)
    ax.tick_params(axis="x", length=0, pad=3, labelsize=9.5, labelcolor="#333333")
    ax.tick_params(axis="y", length=3, width=0.8, pad=1, labelsize=9, labelcolor="#333333",
                   color="#555555", left=True)
    for sp in ax.spines.values():
        sp.set_color("#3a3a3a")
        sp.set_linewidth(1.0)

    # scribbled band through the noisy (shaded) stretches, reads as a dense cloud
    n0 = len(ax.lines)
    sns.lineplot(data=to_frame(noisy), x="mb", y="log2", units="seg", estimator=None, sort=False,
                 color=ink, lw=0.8, ax=ax, legend=False)
    for ln in ax.lines[n0:]:
        ln.set_sketch_params(6, 2.5, 4)

    # main band: solid core plus an irregular jittery overlay for the ragged edge
    tr = to_frame(trace)
    sns.lineplot(data=tr, x="mb", y="log2", units="seg", estimator=None, sort=False,
                 color=ink, lw=3.8, ax=ax, legend=False)
    n0 = len(ax.lines)
    sns.lineplot(data=tr, x="mb", y="log2", units="seg", estimator=None, sort=False,
                 color=ink, lw=1.0, ax=ax, legend=False)
    for ln in ax.lines[n0:]:
        ln.set_sketch_params(3.5, 4, 4)

    sns.scatterplot(data=to_frame(points), x="mb", y="log2", marker="s", s=6, color=ink, linewidth=0,
                    ax=ax, legend=False, zorder=3)

    ax_x, ax_y, direction = arrow
    sign = -1 if direction == "right" else 1
    ax.scatter([ax_x], [ax_y], marker=[(0, 0), (sign * 1.0, 0.3), (sign * 1.0, -0.3)], s=1150,
               color=arrow_color, linewidths=0, zorder=4)
    ax.set_xlabel("")
    ax.set_ylabel("")

    # title: panel letter then mixed-style text, placed piece by piece
    letter, parts = title
    base_y = 1 - (top - 11) / H
    fig.text(8 / W, base_y, letter, fontsize=16, fontweight="bold", family=["Liberation Sans", "DejaVu Sans"],
             color="#111111", va="baseline")
    x_px = 40
    for i, (txt, weight, style) in enumerate(parts):
        col = "#1a1a1a" if weight == "bold" else "#3a3a3a"
        t = fig.text(x_px / W, base_y, txt, fontsize=13.6, fontweight=weight, fontstyle=style,
                     family=title_font, color=col, va="baseline")
        bb = t.get_window_extent(renderer)
        x_px = bb.x1 + 4.5

fig.savefig("out.png", dpi=100)
